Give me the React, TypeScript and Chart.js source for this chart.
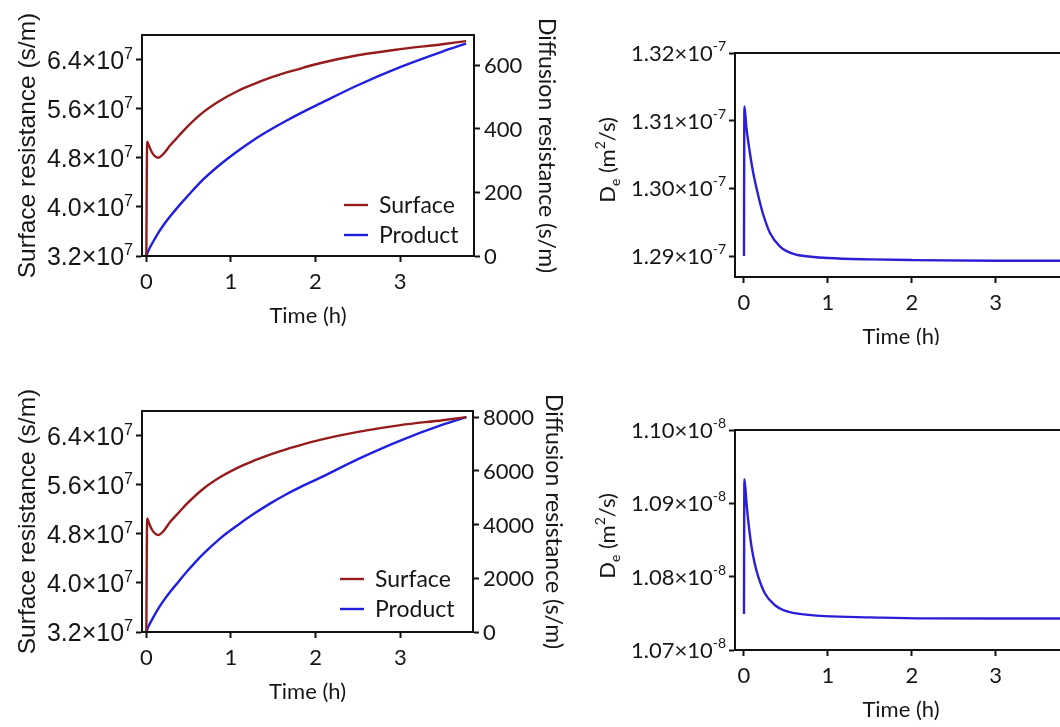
import React, { useEffect, useRef } from "react";
import { Chart, registerables } from "chart.js";

Chart.register(...registerables);

// ---------------- data ----------------
// Time axis (h)
const X_TICKS = [0, 1, 2, 3];
const SERIES_LABELS = ["Surface", "Product"];

// Top-left panel: surface resistance (×10^7 s/m, left axis) and product-layer diffusion resistance (s/m, right axis)
const TIME_TOP_LEFT = [0, 0.01, 0.03, 0.07, 0.14, 0.2, 0.28, 0.38, 0.48, 0.67, 0.87, 1.07, 1.27, 1.46, 1.66, 1.86, 2.05, 2.5, 3.0, 3.5, 3.78];
const SURFACE_TOP_LEFT = [3.2, 5.06, 5.0, 4.88, 4.8, 4.86, 5.0, 5.15, 5.3, 5.54, 5.73, 5.88, 6.0, 6.1, 6.19, 6.27, 6.34, 6.47, 6.57, 6.65, 6.7];
const PRODUCT_TOP_LEFT = [0, 7, 20, 40, 72, 96, 124, 156, 186, 240, 287, 328, 365, 396, 426, 454, 479, 537, 594, 643, 668];
const SURFACE_TICKS = [3.2, 4.0, 4.8, 5.6, 6.4];
const PRODUCT_TICKS_TOP = [0, 200, 400, 600];

// Bottom-left panel
const TIME_BOTTOM_LEFT = [0, 0.01, 0.03, 0.07, 0.14, 0.2, 0.28, 0.38, 0.48, 0.67, 0.87, 1.07, 1.27, 1.46, 1.66, 1.86, 2.05, 2.5, 3.0, 3.5, 3.78];
const SURFACE_BOTTOM_LEFT = [3.2, 5.05, 4.98, 4.86, 4.78, 4.84, 4.99, 5.14, 5.29, 5.53, 5.72, 5.87, 5.99, 6.09, 6.18, 6.26, 6.33, 6.46, 6.57, 6.65, 6.7];
const PRODUCT_BOTTOM_LEFT = [0, 85, 240, 480, 865, 1150, 1490, 1870, 2250, 2900, 3480, 3960, 4400, 4780, 5140, 5460, 5740, 6440, 7130, 7720, 8000];
const PRODUCT_TICKS_BOTTOM = [0, 2000, 4000, 6000, 8000];

// Top-right panel: De (×10^-7 m²/s)
const TIME_TOP_RIGHT = [0, 0.005, 0.03, 0.07, 0.11, 0.15, 0.19, 0.23, 0.31, 0.43, 0.59, 0.8, 1.0, 1.5, 2.0, 3.0, 3.78];
const DE_TOP_RIGHT = [1.29, 1.3121, 1.3089, 1.3053, 1.3023, 1.3, 1.2979, 1.2961, 1.2934, 1.2914, 1.2903, 1.2899, 1.2897, 1.2895, 1.2894, 1.2893, 1.2893];
const DE_TICKS_TOP = [1.29, 1.3, 1.31, 1.32];

// Bottom-right panel: De (×10^-8 m²/s)
const TIME_BOTTOM_RIGHT = [0, 0.005, 0.03, 0.05, 0.09, 0.13, 0.17, 0.25, 0.37, 0.47, 0.57, 0.77, 0.96, 1.5, 2.15, 3.0, 3.78];
const DE_BOTTOM_RIGHT = [1.0749, 1.0933, 1.0901, 1.0877, 1.0841, 1.0817, 1.08, 1.0777, 1.0761, 1.07544, 1.0751, 1.07479, 1.07462, 1.07445, 1.07431, 1.0743, 1.0743];
const DE_TICKS_BOTTOM = [1.07, 1.08, 1.09, 1.1];

// ---------------- styles ----------------
const ARIAL = '"Liberation Sans", Arial, sans-serif';
const CAL = 'Lato, "Noto Sans", sans-serif';
const INK = "#161616";
const AXIS = "#111111";
const RED = "#961c1c";
const BLUE = "#1f1fe0";
const BLUE_DE = "#2b1fd6";

type Seg = { t: string; font: string; size: number; dy?: number };

function drawRich(ctx: CanvasRenderingContext2D, segs: Seg[], x: number, baseline: number, align: "left" | "right" | "center") {
  const widths = segs.map((s) => {
    ctx.font = `${s.size}px ${s.font}`;
    return ctx.measureText(s.t).width;
  });
  const total = widths.reduce((a, b) => a + b, 0);
  let cx = align === "left" ? x : align === "right" ? x - total : x - total / 2;
  ctx.textAlign = "left";
  ctx.textBaseline = "alphabetic";
  ctx.fillStyle = INK;
  segs.forEach((s, i) => {
    ctx.font = `${s.size}px ${s.font}`;
    ctx.fillText(s.t, cx, baseline + (s.dy || 0));
    cx += widths[i];
  });
}

function drawRotated(ctx: CanvasRenderingContext2D, segs: Seg[], cx: number, cy: number, dir: -1 | 1, size: number) {
  ctx.save();
  ctx.translate(cx, cy);
  ctx.rotate((dir * Math.PI) / 2);
  drawRich(ctx, segs, 0, 0.35 * size, "center");
  ctx.restore();
}

interface PanelSpec {
  left: number;
  top: number;
  w: number;
  h: number;
  area: { l: number; r: number; t: number; b: number };
  xMin: number;
  xMax: number;
  yMin: number;
  yMax: number;
  yTicks: number[];
  yLabel: (v: number) => Seg[];
  yLabelSize: number;
  yTitle: Seg[];
  yTitleX: number;
  yTitleDy: number;
  y1?: { min: number; max: number; ticks: number[]; titleX: number };
  datasets: { x: number[]; y: number[]; color: string; axis: string }[];
  legend?: { x1: number; x2: number; textX: number; ys: number[] };
}

const leftLabel = (v: number): Seg[] => [
  { t: `${v.toFixed(1)}×10`, font: ARIAL, size: 25 },
  { t: "7", font: ARIAL, size: 16, dy: -10 },
];
const deLabel = (exp: string) => (v: number): Seg[] => [
  { t: `${v.toFixed(2)}×10`, font: CAL, size: 22 },
  { t: exp, font: CAL, size: 14, dy: -10 },
];
const SURFACE_TITLE: Seg[] = [{ t: "Surface resistance (s/m)", font: ARIAL, size: 24.5 }];
const DE_TITLE: Seg[] = [
  { t: "D", font: CAL, size: 22 },
  { t: "e", font: CAL, size: 14, dy: 5 },
  { t: " (m", font: CAL, size: 22 },
  { t: "2", font: CAL, size: 14, dy: -10 },
  { t: "/s)", font: CAL, size: 22 },
];

const PANELS: PanelSpec[] = [
  {
    left: 0, top: 0, w: 580, h: 345,
    area: { l: 142, r: 474, t: 35, b: 256 },
    xMin: -0.051, xMax: 3.874,
    yMin: 3.2, yMax: 6.8, yTicks: SURFACE_TICKS, yLabel: leftLabel, yLabelSize: 25,
    yTitle: SURFACE_TITLE, yTitleX: 26, yTitleDy: 0,
    y1: { min: 0, max: 695, ticks: PRODUCT_TICKS_TOP, titleX: 547 },
    datasets: [
      { x: TIME_TOP_LEFT, y: SURFACE_TOP_LEFT, color: RED, axis: "y" },
      { x: TIME_TOP_LEFT, y: PRODUCT_TOP_LEFT, color: BLUE, axis: "y1" },
    ],
    legend: { x1: 344, x2: 368, textX: 379, ys: [205, 235] },
  },
  {
    left: 560, top: 0, w: 520, h: 345,
    area: { l: 175, r: 507, t: 53, b: 277 },
    xMin: -0.107, xMax: 3.85,
    yMin: 1.2869, yMax: 1.32, yTicks: DE_TICKS_TOP, yLabel: deLabel("-7"), yLabelSize: 22,
    yTitle: DE_TITLE, yTitleX: 47, yTitleDy: -5,
    datasets: [{ x: TIME_TOP_RIGHT, y: DE_TOP_RIGHT, color: BLUE_DE, axis: "y" }],
  },
  {
    left: 0, top: 370, w: 580, h: 357,
    area: { l: 142, r: 473, t: 41, b: 262 },
    xMin: -0.051, xMax: 3.858,
    yMin: 3.2, yMax: 6.8, yTicks: SURFACE_TICKS, yLabel: leftLabel, yLabelSize: 25,
    yTitle: SURFACE_TITLE, yTitleX: 26, yTitleDy: 0,
    y1: { min: 0, max: 8230, ticks: PRODUCT_TICKS_BOTTOM, titleX: 554 },
    datasets: [
      { x: TIME_BOTTOM_LEFT, y: SURFACE_BOTTOM_LEFT, color: RED, axis: "y" },
      { x: TIME_BOTTOM_LEFT, y: PRODUCT_BOTTOM_LEFT, color: BLUE, axis: "y1" },
    ],
    legend: { x1: 340, x2: 364, textX: 375, ys: [209, 239] },
  },
  {
    left: 560, top: 370, w: 520, h: 357,
    area: { l: 175, r: 507, t: 60, b: 280 },
    xMin: -0.107, xMax: 3.85,
    yMin: 1.07, yMax: 1.1, yTicks: DE_TICKS_BOTTOM, yLabel: deLabel("-8"), yLabelSize: 22,
    yTitle: DE_TITLE, yTitleX: 47, yTitleDy: -4,
    datasets: [{ x: TIME_BOTTOM_RIGHT, y: DE_BOTTOM_RIGHT, color: BLUE_DE, axis: "y" }],
  },
];

function axisOpts(min: number, max: number, ticks: number[], fit: (sc: any) => void, position: string) {
  return {
    type: "linear",
    position,
    min,
    max,
    afterBuildTicks: (sc: any) => {
      sc.ticks = ticks.map((v) => ({ value: v }));
    },
    afterFit: fit,
    ticks: { display: false },
    grid: { drawOnChartArea: false, drawTicks: true, tickLength: 6, tickWidth: 2, color: AXIS },
    border: { display: true, width: 2, color: AXIS },
  };
}

function buildConfig(s: PanelSpec): any {
  const scales: any = {
    x: axisOpts(s.xMin, s.xMax, X_TICKS, (sc) => { sc.height = s.h - s.area.b; }, "bottom"),
    y: axisOpts(s.yMin, s.yMax, s.yTicks, (sc) => { sc.width = s.area.l; }, "left"),
  };
  if (s.y1) {
    scales.y1 = axisOpts(s.y1.min, s.y1.max, s.y1.ticks, (sc) => { sc.width = s.w - s.area.r; }, "right");
  }
  const decor = {
    id: "decor",
    afterDraw(chart: any) {
      const ctx: CanvasRenderingContext2D = chart.ctx;
      const ca = chart.chartArea;
      ctx.save();
      ctx.strokeStyle = AXIS;
      ctx.lineWidth = 2;
      ctx.strokeRect(ca.left, ca.top, ca.right - ca.left, ca.bottom - ca.top);

      // left tick labels
      const ys = chart.scales.y;
      s.yTicks.forEach((v) => {
        const py = ys.getPixelForValue(v);
        drawRich(ctx, s.yLabel(v), ca.left - 9, py + 0.36 * s.yLabelSize, "right");
      });
      // right tick labels + right title
      if (s.y1) {
        const y1 = chart.scales.y1;
        s.y1.ticks.forEach((v) => {
          const py = y1.getPixelForValue(v);
          drawRich(ctx, [{ t: String(v), font: CAL, size: 22 }], ca.right + 10, py + 0.36 * 22, "left");
        });
        drawRotated(ctx, [{ t: "Diffusion resistance (s/m)", font: CAL, size: 23 }], s.y1.titleX, (ca.top + ca.bottom) / 2, 1, 23);
      }
      // x tick labels + title
      const xs = chart.scales.x;
      X_TICKS.forEach((v) => {
        drawRich(ctx, [{ t: String(v), font: CAL, size: 22 }], xs.getPixelForValue(v), ca.bottom + 25 + 0.36 * 22, "center");
      });
      drawRich(ctx, [{ t: "Time (h)", font: CAL, size: 22 }], (ca.left + ca.right) / 2, ca.bottom + 59.5 + 0.36 * 22, "center");
      // left title
      drawRotated(ctx, s.yTitle, s.yTitleX, (ca.top + ca.bottom) / 2 + s.yTitleDy, -1, s.yTitle[0].size);
      // legend
      if (s.legend) {
        const lg = s.legend;
        s.datasets.forEach((d, i) => {
          ctx.strokeStyle = d.color;
          ctx.lineWidth = 2.4;
          ctx.beginPath();
          ctx.moveTo(lg.x1, lg.ys[i]);
          ctx.lineTo(lg.x2, lg.ys[i]);
          ctx.stroke();
          drawRich(ctx, [{ t: SERIES_LABELS[i], font: CAL, size: 23 }], lg.textX, lg.ys[i] + 0.34 * 23, "left");
        });
      }
      ctx.restore();
    },
  };
  return {
    type: "line",
    data: {
      datasets: s.datasets.map((d, i) => ({
        label: s.legend ? SERIES_LABELS[i] : "De",
        data: d.x.map((x, k) => ({ x, y: d.y[k] })),
        borderColor: d.color,
        backgroundColor: d.color,
        borderWidth: 2.4,
        pointRadius: 0,
        fill: false,
        cubicInterpolationMode: "monotone",
        yAxisID: d.axis,
      })),
    },
    options: {
      responsive: false,
      maintainAspectRatio: false,
      animation: false,
      events: [],
      layout: { padding: { top: s.area.t, left: 0, bottom: 0, right: s.y1 ? 0 : s.w - s.area.r } },
      plugins: { legend: { display: false }, tooltip: { enabled: false }, title: { display: false } },
      scales,
    },
    plugins: [decor],
  };
}

function Panel({ spec }: { spec: PanelSpec }) {
  const ref = useRef<HTMLCanvasElement>(null);
  useEffect(() => {
    const chart = new Chart(ref.current as HTMLCanvasElement, buildConfig(spec));
    return () => chart.destroy();
  }, [spec]);
  return (
    <canvas
      ref={ref}
      width={spec.w}
      height={spec.h}
      style={{ position: "absolute", left: spec.left, top: spec.top, width: spec.w, height: spec.h }}
    />
  );
}

export default function App() {
  return (
    <div style={{ position: "absolute", left: 0, top: 0, width: 1060, height: 727, overflow: "hidden", background: "#ffffff" }}>
      {PANELS.map((p, i) => (
        <Panel key={i} spec={p} />
      ))}
    </div>
  );
}
